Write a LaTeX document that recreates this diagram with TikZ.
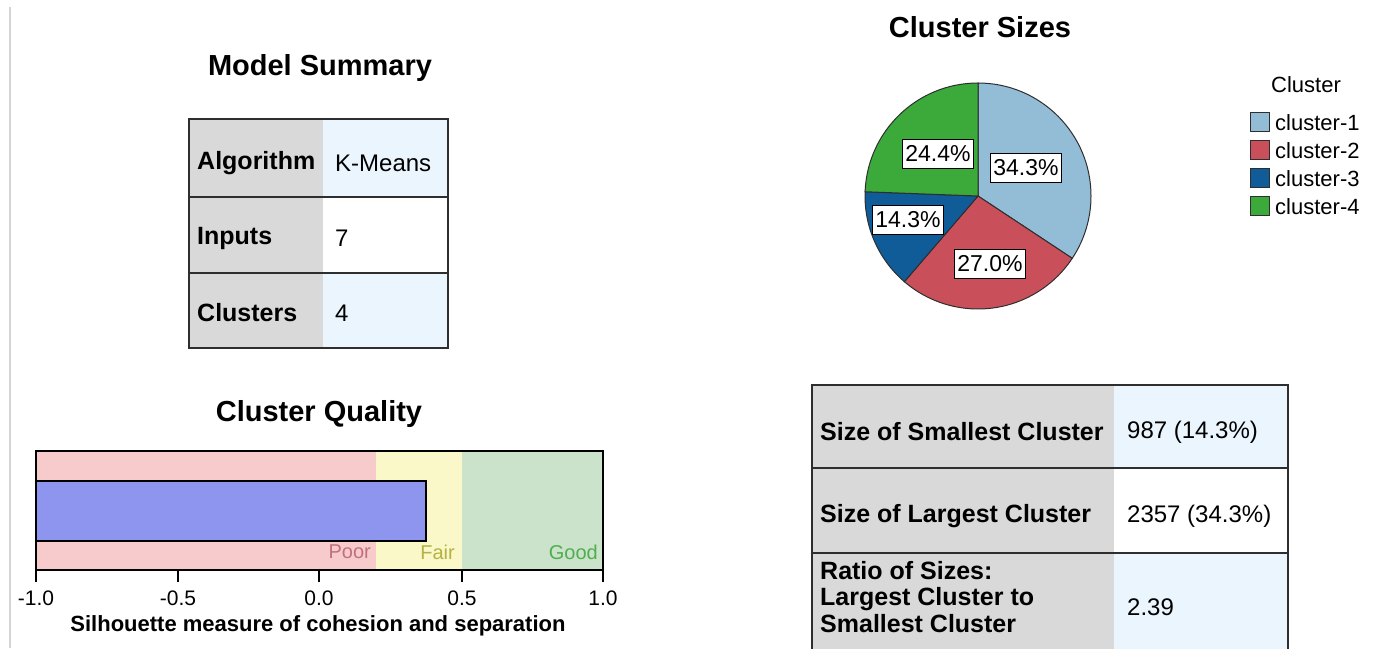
\documentclass[tikz,border=0pt]{standalone}
\usepackage{fontspec}
\setmainfont{Liberation Sans}
\newcommand\pxfont[1]{\fontsize{#1}{#1}\selectfont}
\definecolor{cellgray}{HTML}{D9D9D9}
\definecolor{cellblue}{HTML}{EBF5FE}
\definecolor{bordercol}{HTML}{2E2E2E}
\definecolor{poorbg}{HTML}{F7CBCB}
\definecolor{fairbg}{HTML}{FAF7C8}
\definecolor{goodbg}{HTML}{CBE3CB}
\definecolor{barcol}{HTML}{8E95EE}
\definecolor{poortx}{HTML}{C0707F}
\definecolor{fairtx}{HTML}{B5B245}
\definecolor{goodtx}{HTML}{4FAE4F}
\definecolor{cA}{HTML}{93BDD6}
\definecolor{cB}{HTML}{C9505A}
\definecolor{cC}{HTML}{105C98}
\definecolor{cD}{HTML}{3BAA3B}
\definecolor{sideline}{HTML}{D4D4D4}
\begin{document}
\begin{tikzpicture}[x=1pt,y=1pt,
  title/.style={font=\pxfont{29}\bfseries, inner sep=0},
  lab/.style={font=\pxfont{25}\bfseries, anchor=west, inner sep=0},
  val/.style={font=\pxfont{24}, anchor=west, inner sep=0},
  pct/.style={draw=black, line width=1.2pt, fill=white, font=\pxfont{23}, inner sep=0, minimum width=71pt, minimum height=29pt},
  ticklab/.style={font=\pxfont{21}, inner sep=0},
  qual/.style={font=\pxfont{20}, inner sep=0, anchor=east},
  swatch/.style={draw=bordercol, line width=1.2pt, minimum size=19pt, inner sep=0},
  legtext/.style={font=\pxfont{22}, anchor=west, inner sep=0},
  tframe/.style={draw=bordercol, line width=2pt},
  slice/.style={draw=bordercol, line width=1pt}]
\useasboundingbox (0,0) rectangle (1379,-648);
\clip (0,0) rectangle (1379,-648);
\fill[white] (0,0) rectangle (1379,-648);
% side line
\draw[sideline, line width=2pt] (10,-7) -- (10,-648);

% ===== Model Summary =====
\node[title] (mstitle) at (320,-68) {Model Summary};
\fill[cellgray] (189,-119) rectangle (323,-348);
\fill[cellblue] (323,-119) rectangle (448,-197);
\fill[white] (323,-197) rectangle (448,-273);
\fill[cellblue] (323,-273) rectangle (448,-348);
\draw[tframe] (189,-119) rectangle (448,-348);
\draw[tframe] (189,-197) -- (448,-197);
\draw[tframe] (189,-273) -- (448,-273);
\node[lab] (alg) at (197,-163) {Algorithm};
\node[val] (algv) at (335,-163) {K-Means};
\node[lab] (inp) at (197,-238) {Inputs};
\node[val] (inpv) at (335,-238) {7};
\node[lab] (clu) at (197,-313) {Clusters};
\node[val] (cluv) at (335,-313) {4};

% ===== Cluster Quality =====
\node[title] (cqtitle) at (319,-414) {Cluster Quality};
\fill[poorbg] (36,-451) rectangle (376,-570);
\fill[fairbg] (376,-451) rectangle (462,-570);
\fill[goodbg] (462,-451) rectangle (603,-570);
\filldraw[fill=barcol, draw=black, line width=1.6pt] (36,-481) rectangle (426,-541);
\draw[line width=1.6pt] (36,-582) -- (36,-451) -- (603,-451) -- (603,-582);
\draw[line width=1.6pt] (36,-570) -- (603,-570);
\foreach \tx in {178,319,462} \draw[line width=1.6pt] (\tx,-570) -- (\tx,-582);
\node[qual, text=poortx] (poor) at (371,-552) {Poor};
\node[qual, text=fairtx] (fair) at (455,-552) {Fair};
\node[qual, text=goodtx] (good) at (598,-552) {Good};
\node[ticklab] (t1) at (36,-598) {-1.0};
\node[ticklab] (t2) at (178,-598) {-0.5};
\node[ticklab] (t3) at (319,-598) {0.0};
\node[ticklab] (t4) at (462,-598) {0.5};
\node[ticklab] (t5) at (603,-598) {1.0};
\node[font=\pxfont{22}\bfseries, inner sep=0] (axtitle) at (318,-626) {Silhouette measure of cohesion and separation};

% ===== Cluster Sizes =====
\node[title] (cstitle) at (980,-27) {Cluster Sizes};
\coordinate (pc) at (978,-196);
\filldraw[slice, fill=cA] (pc) -- ++(90:113) arc[start angle=90, end angle=-33.48, radius=113] -- cycle;
\filldraw[slice, fill=cB] (pc) -- ++(-33.48:113) arc[start angle=-33.48, end angle=-130.68, radius=113] -- cycle;
\filldraw[slice, fill=cC] (pc) -- ++(-130.68:113) arc[start angle=-130.68, end angle=-182.16, radius=113] -- cycle;
\filldraw[slice, fill=cD] (pc) -- ++(177.84:113) arc[start angle=177.84, end angle=90, radius=113] -- cycle;
\node[pct] (p1) at (1026,-168) {34.3\%};
\node[pct] (p4) at (938,-154) {24.4\%};
\node[pct] (p3) at (908,-220) {14.3\%};
\node[pct] (p2) at (990,-264) {27.0\%};

% legend
\node[font=\pxfont{22}, inner sep=0] (legtitle) at (1306,-85) {Cluster};
\node[swatch, fill=cA] (s1) at (1260,-122) {};
\node[swatch, fill=cB] (s2) at (1260,-150) {};
\node[swatch, fill=cC] (s3) at (1260,-178) {};
\node[swatch, fill=cD] (s4) at (1260,-206) {};
\node[legtext] (l1) at (1275,-123) {cluster-1};
\node[legtext] (l2) at (1275,-151) {cluster-2};
\node[legtext] (l3) at (1275,-179) {cluster-3};
\node[legtext] (l4) at (1275,-207) {cluster-4};

% ===== Size table =====
\fill[cellgray] (812,-385) rectangle (1114,-660);
\fill[cellblue] (1114,-385) rectangle (1288,-468);
\fill[white] (1114,-468) rectangle (1288,-553);
\fill[cellblue] (1114,-553) rectangle (1288,-660);
\draw[tframe] (812,-660) -- (812,-385) -- (1288,-385) -- (1288,-660);
\draw[tframe] (812,-468) -- (1288,-468);
\draw[tframe] (812,-553) -- (1288,-553);
\node[lab] (sm) at (820,-432) {Size of Smallest Cluster};
\node[val] (smv) at (1127,-432) {987 (14.3\%)};
\node[lab] (lg) at (820,-516) {Size of Largest Cluster};
\node[val] (lgv) at (1127,-516) {2357 (34.3\%)};
\node[lab, align=left, font=\fontsize{25}{26.5}\selectfont\bfseries] (ra) at (820,-597) {Ratio of Sizes:\\Largest Cluster to\\Smallest Cluster};
\node[val] (rav) at (1127,-607) {2.39};
\end{tikzpicture}
\end{document}
